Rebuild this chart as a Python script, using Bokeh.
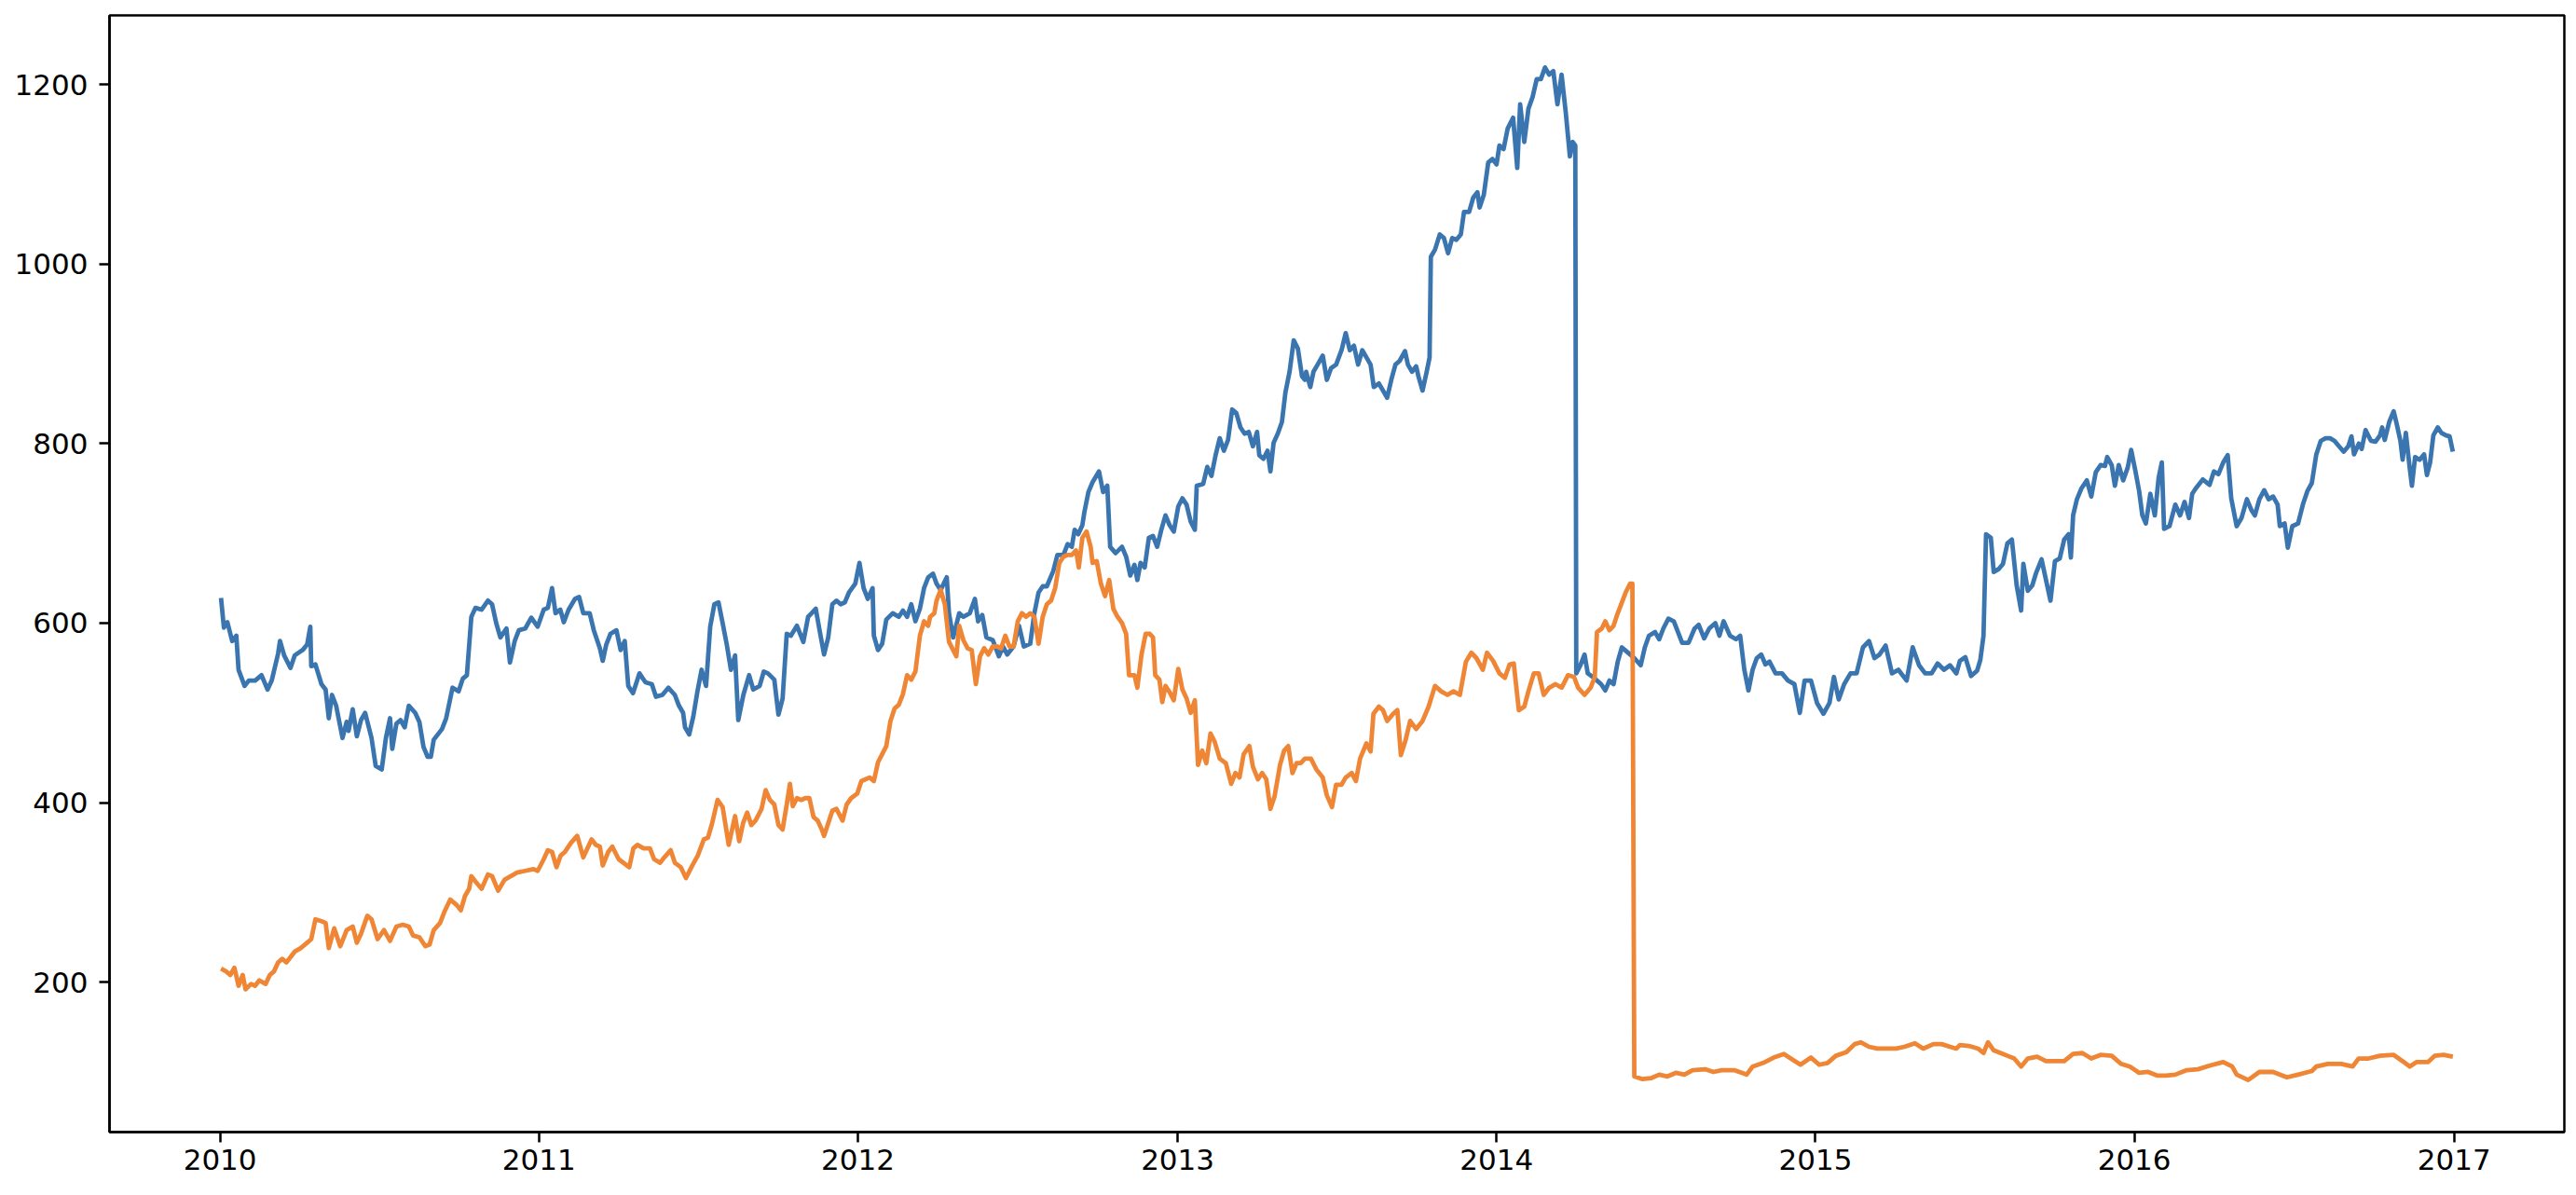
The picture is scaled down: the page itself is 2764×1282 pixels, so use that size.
from datetime import datetime
from bokeh.plotting import figure
from bokeh.models import Range1d, FixedTicker, DatetimeTickFormatter
from bokeh.embed import file_html
from bokeh.resources import INLINE

# ---- data (decimal year, price) ----
blue_years = [
    2010.003, 2010.012, 2010.023, 2010.038, 2010.051, 2010.058, 2010.077, 2010.090, 2010.110, 2010.130,
    2010.149, 2010.162, 2010.182, 2010.188, 2010.201, 2010.221, 2010.234, 2010.259, 2010.273, 2010.283,
    2010.286, 2010.299, 2010.318, 2010.331, 2010.341, 2010.351, 2010.364, 2010.384, 2010.397, 2010.403,
    2010.416, 2010.429, 2010.442, 2010.455, 2010.475, 2010.488, 2010.507, 2010.520, 2010.533, 2010.540,
    2010.553, 2010.566, 2010.579, 2010.592, 2010.612, 2010.625, 2010.638, 2010.651, 2010.661, 2010.670,
    2010.683, 2010.696, 2010.709, 2010.722, 2010.729, 2010.748, 2010.761, 2010.774, 2010.788, 2010.801,
    2010.820, 2010.840, 2010.853, 2010.866, 2010.879, 2010.898, 2010.909, 2010.924, 2010.937, 2010.957,
    2010.976, 2010.996, 2011.015, 2011.028, 2011.041, 2011.052, 2011.067, 2011.078, 2011.093, 2011.113,
    2011.126, 2011.139, 2011.159, 2011.172, 2011.191, 2011.200, 2011.211, 2011.224, 2011.243, 2011.256,
    2011.269, 2011.280, 2011.295, 2011.315, 2011.334, 2011.354, 2011.367, 2011.387, 2011.406, 2011.426,
    2011.439, 2011.452, 2011.458, 2011.471, 2011.484, 2011.497, 2011.510, 2011.524, 2011.537, 2011.550,
    2011.563, 2011.576, 2011.589, 2011.602, 2011.615, 2011.625, 2011.641,
    2011.659, 2011.672, 2011.692, 2011.705, 2011.718, 2011.738, 2011.751, 2011.764, 2011.777, 2011.790,
    2011.809, 2011.829, 2011.844, 2011.855, 2011.868, 2011.881, 2011.894, 2011.907, 2011.920, 2011.933,
    2011.946, 2011.959, 2011.972, 2011.992, 2012.005, 2012.018, 2012.031, 2012.046, 2012.050, 2012.063,
    2012.076, 2012.089, 2012.109, 2012.128, 2012.141, 2012.154, 2012.167, 2012.180, 2012.194, 2012.207,
    2012.220, 2012.235, 2012.246, 2012.259, 2012.278, 2012.285, 2012.298, 2012.317, 2012.330, 2012.350,
    2012.366, 2012.376, 2012.389, 2012.402, 2012.422, 2012.441, 2012.454, 2012.467, 2012.487, 2012.504,
    2012.519, 2012.539, 2012.552, 2012.565, 2012.578, 2012.591, 2012.611, 2012.624, 2012.643, 2012.656,
    2012.669, 2012.678, 2012.689, 2012.702, 2012.708, 2012.721, 2012.734, 2012.754, 2012.767, 2012.780,
    2012.789, 2012.806, 2012.826, 2012.839, 2012.852, 2012.865, 2012.874, 2012.884, 2012.897, 2012.910,
    2012.923, 2012.936, 2012.949, 2012.962, 2012.975, 2012.988, 2013.002, 2013.015, 2013.028, 2013.041,
    2013.054, 2013.060, 2013.080, 2013.093, 2013.106, 2013.119, 2013.132, 2013.145, 2013.158, 2013.171,
    2013.184, 2013.197, 2013.210, 2013.223, 2013.236, 2013.249, 2013.256, 2013.269, 2013.282, 2013.291,
    2013.301, 2013.314, 2013.327, 2013.338, 2013.351, 2013.364, 2013.377, 2013.390, 2013.399,
    2013.403, 2013.416, 2013.426, 2013.439, 2013.455, 2013.468, 2013.481, 2013.497, 2013.514, 2013.527,
    2013.540, 2013.553, 2013.566, 2013.579, 2013.592, 2013.605, 2013.615, 2013.631, 2013.644, 2013.657,
    2013.670, 2013.683, 2013.696, 2013.713, 2013.722, 2013.735, 2013.748, 2013.755, 2013.768, 2013.781,
    2013.790, 2013.794, 2013.807, 2013.822, 2013.835, 2013.848, 2013.861, 2013.874, 2013.888, 2013.898,
    2013.914, 2013.927, 2013.940, 2013.947, 2013.960, 2013.974, 2013.987, 2014.000, 2014.009, 2014.022,
    2014.035, 2014.052, 2014.065, 2014.074, 2014.087, 2014.100, 2014.113, 2014.126, 2014.139, 2014.152,
    2014.165, 2014.178, 2014.191, 2014.204, 2014.217, 2014.230, 2014.239, 2014.247, 2014.250, 2014.263,
    2014.276, 2014.286, 2014.302, 2014.315, 2014.328, 2014.341, 2014.354, 2014.367, 2014.380, 2014.393,
    2014.406, 2014.419, 2014.432, 2014.452, 2014.465, 2014.478, 2014.497, 2014.510, 2014.523, 2014.539,
    2014.556, 2014.569, 2014.582, 2014.602, 2014.621, 2014.634, 2014.651, 2014.667, 2014.686, 2014.699,
    2014.712, 2014.732, 2014.751, 2014.764, 2014.777, 2014.790, 2014.803, 2014.816, 2014.830, 2014.843,
    2014.856, 2014.875, 2014.895, 2014.914, 2014.934, 2014.951, 2014.966, 2014.986, 2015.005, 2015.025,
    2015.044, 2015.058, 2015.073, 2015.090, 2015.110, 2015.129, 2015.149, 2015.168, 2015.185, 2015.201,
    2015.220, 2015.240, 2015.260, 2015.286, 2015.305, 2015.325, 2015.344, 2015.364, 2015.383, 2015.403,
    2015.422, 2015.442,
    2015.453, 2015.470, 2015.488, 2015.507, 2015.517, 2015.527, 2015.535, 2015.550, 2015.559, 2015.574,
    2015.588, 2015.602, 2015.616, 2015.631, 2015.645, 2015.652, 2015.666, 2015.680, 2015.692, 2015.709,
    2015.723, 2015.737, 2015.751, 2015.766, 2015.780, 2015.794, 2015.801, 2015.808, 2015.820, 2015.834,
    2015.851, 2015.865, 2015.879, 2015.894, 2015.908, 2015.915, 2015.929, 2015.939, 2015.951, 2015.965,
    2015.979, 2015.990, 2016.003, 2016.015, 2016.025, 2016.036, 2016.050, 2016.064, 2016.076, 2016.086,
    2016.093, 2016.110, 2016.128, 2016.143, 2016.157, 2016.171, 2016.181, 2016.192, 2016.214, 2016.235,
    2016.249, 2016.263, 2016.278, 2016.292, 2016.303, 2016.320, 2016.335, 2016.352, 2016.366, 2016.377,
    2016.391, 2016.406, 2016.420, 2016.434, 2016.448, 2016.455, 2016.470, 2016.480, 2016.494, 2016.512,
    2016.527, 2016.541, 2016.555, 2016.569, 2016.583, 2016.598, 2016.612, 2016.626, 2016.640, 2016.655,
    2016.669, 2016.679, 2016.687, 2016.702, 2016.711, 2016.723, 2016.740, 2016.754, 2016.768, 2016.775,
    2016.783, 2016.797, 2016.811, 2016.821, 2016.832, 2016.839, 2016.849, 2016.861, 2016.868, 2016.878,
    2016.892, 2016.906, 2016.915, 2016.925, 2016.935, 2016.949, 2016.960, 2016.975, 2016.986, 2016.996,
]
blue_values = [
    628, 595, 601, 580, 586, 548, 530, 536, 536, 542,
    526, 536, 566, 580, 564, 550, 564, 570, 576, 596,
    552, 554, 532, 526, 494, 520, 508, 472, 490, 480,
    504, 474, 492, 500, 472, 441, 437, 472, 494, 460,
    488, 492, 484, 508, 500, 490, 462, 451, 451, 470,
    476, 482, 494, 516, 528, 524, 538, 542, 607, 617,
    615, 625, 621, 600, 584, 594, 556, 580, 592, 594,
    606, 596, 615, 617, 639, 611, 615, 601, 615, 627,
    629, 611, 611, 592, 572, 558, 576, 588, 592, 570,
    580, 530, 522, 544, 534, 532, 518, 520, 528, 520,
    508, 500, 484, 476, 496, 524, 548, 530, 596, 621,
    623, 600, 576, 548, 564, 492, 520,
    542, 526, 530, 546, 544, 537, 498, 516, 588, 586,
    597, 579, 607, 611, 616, 590, 565, 584, 621, 625,
    621, 623, 634, 644, 667, 639, 627, 639, 586, 570,
    577, 604, 611, 607, 614, 607, 621, 602, 616, 639,
    651, 655, 644, 637, 651, 611, 584, 611, 607, 611,
    627, 602, 609, 584, 581, 563, 574, 565, 574, 597,
    574, 577, 611, 634, 641, 641, 658, 676, 676, 688,
    685, 704, 699, 709, 723, 746, 757, 769, 746, 753,
    685, 678, 685, 674, 653, 665, 648, 667, 662, 695,
    697, 685, 704, 720, 709, 702, 730, 739, 732, 713,
    704, 753, 755, 774, 764, 787, 806, 792, 804, 838,
    834, 818, 811, 813, 797, 813, 787, 783, 792, 769,
    801, 811, 824, 857, 880, 915, 906, 875, 871,
    880, 863, 880, 888, 898, 871, 884, 888, 904, 923,
    904, 909, 888, 904, 896, 888, 863, 867, 859, 851,
    871, 888, 892, 903, 888, 880, 886, 875, 859, 880,
    896, 1008, 1016, 1033, 1029, 1012, 1029, 1027, 1033, 1058,
    1058, 1074, 1080, 1063, 1077, 1113, 1117, 1111, 1132, 1128,
    1151, 1163, 1107, 1178, 1136, 1173, 1186, 1206, 1206, 1219,
    1211, 1215, 1178, 1211, 1169, 1120, 1136, 1132, 544, 553,
    565, 544, 540, 536, 532, 525, 536, 532, 557, 573,
    569, 565, 561, 553, 573, 586, 590, 582, 594, 605,
    602, 590, 578, 578, 594, 598, 583, 594, 600, 586,
    602, 586, 582, 586, 548, 525, 548, 561, 565, 554,
    557, 544, 544, 536, 532, 500, 536, 536, 511, 499,
    511, 540, 515, 532, 544, 544, 573, 580, 561, 565,
    575, 544, 548, 536, 573, 553, 544, 544, 555, 548,
    553, 544,
    558, 562, 541, 547, 559, 586, 699, 695, 657, 660,
    666, 689, 693, 642, 614, 666, 636, 642, 656, 671,
    648, 625, 669, 672, 693, 699, 673, 720, 738, 750,
    759, 741, 768, 776, 775, 785, 776, 753, 776, 759,
    773, 793, 770, 747, 720, 711, 744, 720, 762, 779,
    705, 708, 732, 720, 735, 717, 744, 750, 760, 754,
    769, 766, 779, 787, 739, 708, 717, 738, 726, 720,
    738, 748, 738, 741, 732, 708, 711, 684, 708, 711,
    732, 747, 756, 788, 803, 806, 806, 803, 797, 791,
    797, 808, 788, 800, 794, 815, 803, 802, 809, 818,
    804, 824, 836, 821, 803, 782, 812, 773, 753, 785,
    782, 788, 765, 779, 809, 818, 812, 809, 808, 791,
]

orange_years = [
    2010.003, 2010.019, 2010.032, 2010.045, 2010.058, 2010.071, 2010.080, 2010.097, 2010.110, 2010.123,
    2010.143, 2010.156, 2010.169, 2010.182, 2010.195, 2010.208, 2010.221, 2010.234, 2010.253, 2010.273,
    2010.286, 2010.299, 2010.318, 2010.331, 2010.341, 2010.358, 2010.377, 2010.397, 2010.416, 2010.429,
    2010.442, 2010.462, 2010.475, 2010.494, 2010.514, 2010.533, 2010.553, 2010.573, 2010.592, 2010.605,
    2010.625, 2010.644, 2010.657, 2010.670, 2010.690, 2010.703, 2010.722, 2010.742, 2010.755, 2010.768,
    2010.781, 2010.788, 2010.801, 2010.820, 2010.840, 2010.853, 2010.872, 2010.892, 2010.911, 2010.931,
    2010.957, 2010.983, 2010.996, 2011.015, 2011.028, 2011.041, 2011.055, 2011.068, 2011.081, 2011.100,
    2011.120, 2011.139, 2011.165, 2011.178, 2011.191, 2011.200, 2011.217, 2011.230, 2011.250, 2011.283,
    2011.296, 2011.309, 2011.328, 2011.348, 2011.361, 2011.380, 2011.393, 2011.413, 2011.426, 2011.445,
    2011.461, 2011.478, 2011.498, 2011.517, 2011.530, 2011.543, 2011.560, 2011.576, 2011.595, 2011.615,
    2011.628,
    2011.640, 2011.653, 2011.666, 2011.679, 2011.698, 2011.711, 2011.724, 2011.738, 2011.751, 2011.764,
    2011.777, 2011.787, 2011.796, 2011.809, 2011.822, 2011.835, 2011.848, 2011.861, 2011.874, 2011.887,
    2011.894, 2011.907, 2011.920, 2011.933, 2011.952, 2011.965, 2011.979, 2011.998, 2012.011, 2012.024,
    2012.037, 2012.050, 2012.063, 2012.076, 2012.089, 2012.102, 2012.115, 2012.128, 2012.141, 2012.154,
    2012.167, 2012.180, 2012.194, 2012.207, 2012.220, 2012.226, 2012.239, 2012.246, 2012.259, 2012.272,
    2012.285, 2012.298, 2012.308, 2012.317, 2012.330, 2012.343, 2012.356, 2012.369, 2012.382, 2012.395,
    2012.408, 2012.422, 2012.435, 2012.448, 2012.461, 2012.474, 2012.487, 2012.500, 2012.513, 2012.526,
    2012.539, 2012.552, 2012.565, 2012.578, 2012.591, 2012.604, 2012.617, 2012.630, 2012.643, 2012.656,
    2012.669, 2012.682, 2012.691, 2012.702, 2012.715, 2012.728, 2012.734, 2012.747, 2012.760, 2012.773,
    2012.786, 2012.799, 2012.812, 2012.826, 2012.839, 2012.848, 2012.865, 2012.874, 2012.887, 2012.900,
    2012.913, 2012.923, 2012.930, 2012.943, 2012.952, 2012.962, 2012.975, 2012.988, 2013.002, 2013.015,
    2013.028, 2013.041, 2013.054, 2013.064, 2013.077, 2013.090, 2013.103, 2013.116, 2013.132, 2013.151,
    2013.168, 2013.181, 2013.194, 2013.207, 2013.225, 2013.236, 2013.252, 2013.265, 2013.278, 2013.291,
    2013.304, 2013.321, 2013.334, 2013.347, 2013.360, 2013.373, 2013.386, 2013.399,
    2013.403, 2013.418, 2013.435, 2013.455, 2013.468, 2013.484, 2013.497, 2013.514, 2013.527, 2013.546,
    2013.559, 2013.572, 2013.592, 2013.605, 2013.614, 2013.631, 2013.644, 2013.657, 2013.676, 2013.689,
    2013.700, 2013.715, 2013.729, 2013.748, 2013.768, 2013.787, 2013.807, 2013.826, 2013.846, 2013.865,
    2013.885, 2013.904, 2013.921, 2013.937, 2013.957, 2013.970, 2013.989, 2014.009, 2014.026, 2014.041,
    2014.054, 2014.070, 2014.087, 2014.100, 2014.117, 2014.132, 2014.148, 2014.165, 2014.185, 2014.204,
    2014.224, 2014.243, 2014.256, 2014.276, 2014.295, 2014.308, 2014.315, 2014.330, 2014.341, 2014.354,
    2014.367, 2014.380, 2014.393, 2014.406, 2014.419, 2014.426, 2014.432, 2014.458, 2014.484, 2014.510,
    2014.536, 2014.562, 2014.589, 2014.615, 2014.654, 2014.680, 2014.706, 2014.745, 2014.784, 2014.803,
    2014.836, 2014.869, 2014.901, 2014.927, 2014.953, 2014.986, 2015.012, 2015.038, 2015.064, 2015.097,
    2015.123, 2015.142, 2015.168, 2015.194, 2015.227, 2015.253, 2015.279, 2015.312, 2015.338, 2015.370,
    2015.396, 2015.422, 2015.442,
    2015.453, 2015.481, 2015.510, 2015.527, 2015.541, 2015.559, 2015.581, 2015.602, 2015.623, 2015.645,
    2015.666, 2015.695, 2015.723, 2015.751, 2015.780, 2015.808, 2015.837, 2015.865, 2015.894, 2015.929,
    2015.958, 2015.986, 2016.015, 2016.043, 2016.071, 2016.100, 2016.128, 2016.164, 2016.199, 2016.235,
    2016.278, 2016.306, 2016.320, 2016.356, 2016.391, 2016.434, 2016.477, 2016.512, 2016.555, 2016.569,
    2016.605, 2016.647, 2016.683, 2016.701, 2016.733, 2016.768, 2016.811, 2016.839, 2016.861, 2016.882,
    2016.918, 2016.939, 2016.967, 2016.996,
]
orange_values = [
    215, 212, 208, 216, 196, 208, 192, 198, 196, 202,
    198, 208, 212, 222, 226, 222, 228, 234, 238, 244,
    248, 270, 268, 266, 238, 260, 240, 258, 262, 244,
    254, 274, 270, 248, 258, 246, 262, 264, 262, 252,
    250, 240, 242, 258, 266, 278, 292, 286, 280, 296,
    304, 318, 312, 304, 320, 318, 302, 314, 318, 322,
    324, 326, 324, 337, 347, 345, 328, 341, 345, 355,
    363, 339, 359, 353, 351, 330, 345, 351, 337, 328,
    349, 353, 349, 349, 337, 333, 339, 347, 333, 328,
    316, 328, 341, 359, 361, 377, 403, 395, 353, 385,
    357,
    377, 389, 375, 380, 393, 414, 403, 398, 375, 370,
    398, 421, 396, 405, 403, 405, 405, 384, 380, 370,
    363, 377, 391, 393, 380, 398, 405, 410, 424, 426,
    428, 424, 445, 454, 463, 491, 505, 509, 521, 542,
    537, 546, 586, 602, 597, 607, 611, 625, 637, 621,
    579, 570, 563, 597, 581, 572, 570, 532, 563, 572,
    565, 574, 574, 572, 586, 574, 574, 602, 611, 607,
    611, 607, 577, 607, 621, 625, 639, 667, 674, 676,
    676, 681, 662, 695, 702, 685, 667, 669, 644, 630,
    648, 616, 607, 600, 588, 542, 542, 528, 565, 588,
    588, 584, 542, 537, 512, 530, 523, 514, 549, 526,
    516, 500, 514, 442, 458, 444, 477, 468, 449, 444,
    421, 433, 428, 454, 463, 440, 426, 433, 426, 393,
    407, 442, 458, 463, 433, 444, 444, 449,
    449, 449, 437, 428, 408, 395, 420, 420, 428, 433,
    424, 449, 466, 457, 499, 507, 503, 491, 499, 503,
    453, 470, 491, 482, 491, 507, 530, 524, 520, 524,
    520, 557, 567, 561, 548, 567, 558, 544, 539, 554,
    555, 503, 507, 524, 544, 544, 520, 528, 532, 528,
    542, 540, 528, 520, 528, 540, 590, 594, 602, 592,
    597, 611, 623, 635, 644, 644, 95, 92, 93, 97,
    95, 99, 97, 102, 103, 100, 102, 102, 97, 106,
    110, 116, 120, 114, 108, 116, 108, 110, 118, 122,
    131, 133, 128, 126, 126, 126, 128, 132, 126, 131,
    131, 128, 126,
    130, 129, 126, 121, 133, 124, 121, 118, 115, 106,
    115, 117, 112, 112, 112, 120, 121, 115, 119, 118,
    109, 106, 99, 100, 96, 96, 97, 102, 103, 107,
    111, 106, 97, 91, 100, 100, 94, 97, 101, 106,
    109, 109, 106, 115, 115, 118, 119, 112, 106, 111,
    111, 118, 119, 117,
]

year_ticks = [2010, 2011, 2012, 2013, 2014, 2015, 2016, 2017]
value_ticks = [200, 400, 600, 800, 1000, 1200]

BLUE = "#3a75b0"
ORANGE = "#ef8636"
FONT = "DejaVu Sans"


def to_dt(y):
    yr = int(y)
    start = datetime(yr, 1, 1)
    end = datetime(yr + 1, 1, 1)
    return start + (end - start) * (y - yr)


blue_x = [to_dt(v) for v in blue_years]
orange_x = [to_dt(v) for v in orange_years]

all_years = blue_years + orange_years
lo, hi = min(all_years), max(all_years)
pad = (hi - lo) * 0.05

p = figure(
    width=2756, height=1274,
    x_axis_type="datetime",
    output_backend="svg", toolbar_location=None,
    min_border_left=117, min_border_right=5, min_border_top=16, min_border_bottom=60,
    x_range=Range1d(to_dt(lo - pad), to_dt(hi + pad)),
    y_range=Range1d(33, 1277),
)
p.background_fill_color = "white"
p.border_fill_color = "white"
p.grid.visible = False
p.outline_line_color = "black"
p.outline_line_width = 2.5
p.outline_line_alpha = 1.0

p.line(blue_x, blue_values, line_color=BLUE, line_width=4.8, line_join="round")
p.line(orange_x, orange_values, line_color=ORANGE, line_width=4.8, line_join="round")

ms_ticks = [(datetime(y, 1, 1) - datetime(1970, 1, 1)).total_seconds() * 1000 for y in year_ticks]
p.xaxis.ticker = FixedTicker(ticks=ms_ticks)
p.xaxis.formatter = DatetimeTickFormatter(
    years="%Y", months="%Y", days="%Y", hours="%Y", hourmin="%Y",
    minutes="%Y", minsec="%Y", seconds="%Y", milliseconds="%Y",
)
p.yaxis.ticker = FixedTicker(ticks=value_ticks)

for ax in (p.xaxis[0], p.yaxis[0]):
    ax.axis_line_color = "black"
    ax.axis_line_width = 2.5
    ax.major_tick_line_color = "black"
    ax.major_tick_line_width = 2.5
    ax.major_tick_out = 11
    ax.major_tick_in = 0
    ax.minor_tick_line_color = None
    ax.major_label_text_font = FONT
    ax.major_label_text_font_size = "31px"
    ax.major_label_text_color = "black"

p.xaxis.major_label_standoff = 7
p.yaxis.major_label_standoff = 12

open("out.html", "w").write(file_html(p, INLINE))
